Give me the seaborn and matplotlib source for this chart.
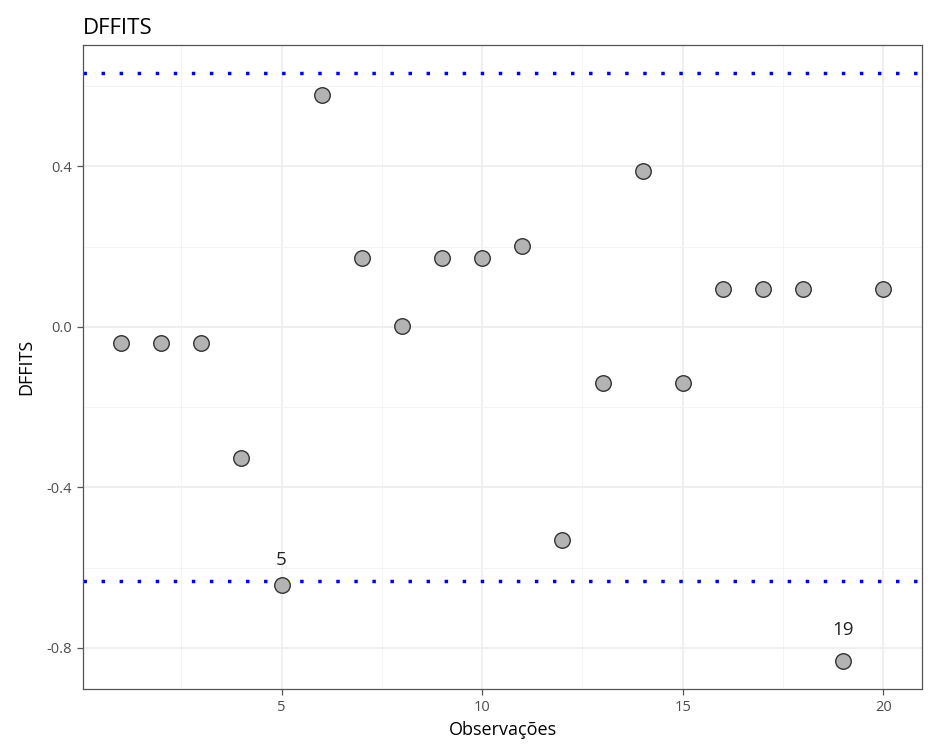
import numpy as np
import pandas as pd
import matplotlib
matplotlib.use("Agg")
import matplotlib.pyplot as plt
import seaborn as sns

obs = list(range(1, 21))
dffits = [-0.040, -0.040, -0.040, -0.327, -0.642, 0.579, 0.172, 0.002, 0.172, 0.172,
          0.202, -0.531, -0.140, 0.389, -0.140, 0.095, 0.095, 0.095, -0.832, 0.095]
limite = 0.632
destaque = [5, 19]
desloc = [11, 16]  # pontos acima do marcador

df = pd.DataFrame({"obs": obs, "dffits": dffits})

sns.set_theme(style="whitegrid")
plt.rcParams["font.family"] = ["Open Sans", "DejaVu Sans"]

fig, ax = plt.subplots(figsize=(9.43, 7.46), dpi=100)
fig.subplots_adjust(left=0.088, right=0.978, top=0.94, bottom=0.076)

ax.axhline(limite, color="blue", linestyle=(0, (1, 4.2)), linewidth=2.5, zorder=2)
ax.axhline(-limite, color="blue", linestyle=(0, (1, 4.2)), linewidth=2.5, zorder=2)

sns.scatterplot(data=df, x="obs", y="dffits", ax=ax, s=125, color="#b3b3b3",
                edgecolor="#333333", linewidth=1.0, zorder=3)

for o, d in zip(destaque, desloc):
    v = dffits[o - 1]
    ax.annotate(str(o), (o, v), xytext=(0, d), textcoords="offset points",
                ha="center", va="bottom", fontsize=13.5, color="#222222")

ax.set_xlim(0.05, 20.97)
ax.set_ylim(-0.903, 0.703)
ax.set_xticks([5, 10, 15, 20])
ax.set_yticks([-0.8, -0.4, 0.0, 0.4])
ax.set_yticklabels(["-0.8", "-0.4", "0.0", "0.4"])
ax.set_xticks([2.5, 7.5, 12.5, 17.5], minor=True)
ax.set_yticks([-0.6, -0.2, 0.2, 0.6], minor=True)

ax.grid(which="major", color="#ebebeb", linewidth=1.1)
ax.grid(which="minor", color="#f2f2f2", linewidth=0.6)
ax.set_axisbelow(True)
for s in ax.spines.values():
    s.set_color("#555555")
    s.set_linewidth(0.9)

ax.tick_params(axis="both", which="major", length=4, width=0.9, color="#555555",
               labelsize=10.5, labelcolor="#4d4d4d", pad=4)
ax.tick_params(axis="both", which="minor", length=0)
ax.tick_params(left=True, bottom=True)

ax.set_xlabel("Observações", fontsize=13, color="black", labelpad=4)
ax.set_ylabel("DFFITS", fontsize=13, color="black", labelpad=8)
ax.set_title("DFFITS", loc="left", fontsize=16, color="black", pad=8, x=0.0)

fig.savefig("out.png", dpi=100)
